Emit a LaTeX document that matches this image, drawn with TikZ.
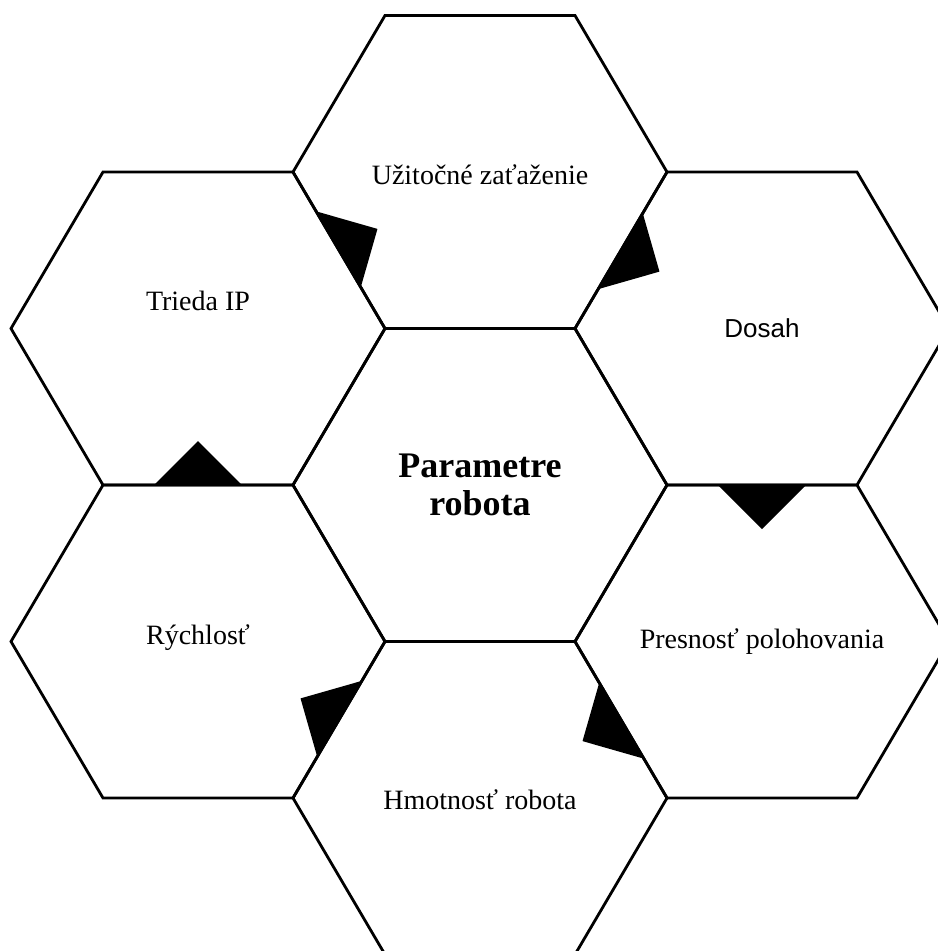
\documentclass[tikz,border=0pt]{standalone}
\usepackage{fontspec}
\setmainfont{Liberation Serif}
\newfontfamily\arialfont{Liberation Sans}
\usetikzlibrary{calc}

\begin{document}
\begin{tikzpicture}[x = .75pt, y = -.75pt,
    every node/.style = {align = center, inner sep = 0pt, font = \fontsize{21}{25}\selectfont},
    hexcell/.style = {draw = black, line width = 2.1pt, line join = miter},
    flowmark/.style = {fill = black}]
    \useasboundingbox (0,0) rectangle (938,951);
    % centres of the cells
    \coordinate (load) at (480,172);
    \coordinate (ip) at (198,328.5);
    \coordinate (reach) at (762,328.5);
    \coordinate (core) at (480,485);
    \coordinate (speed) at (198,641.5);
    \coordinate (accuracy) at (762,641.5);
    \coordinate (mass) at (480,798);
    \foreach \c in {load, ip, reach, core, speed, accuracy, mass}
        \draw[hexcell] ($(\c)+(-187,0)$) -- ++(92,-156.5) -- ++(190,0) -- ++(92,156.5)
            -- ++(-92,156.5) -- ++(-190,0) -- cycle;
    % labels
    \node (load-text) at ($(load)+(0,3)$) {Užitočné zaťaženie};
    \node (ip-text) at ($(ip)+(0,-28)$) {Trieda IP};
    \node (reach-text) at (reach) [font = \arialfont\fontsize{19.5}{23}\selectfont] {Dosah};
    \node (core-text) at (core) [font = \bfseries\fontsize{27}{29}\selectfont] {Parametre\\robota};
    \node (speed-text) at ($(speed)+(0,-4)$) {Rýchlosť};
    \node (accuracy-text) at (accuracy) {Presnosť polohovania};
    \node (mass-text) at ($(mass)+(0,2)$) {Hmotnosť robota};
    % markers on the shared edges
    \foreach \a/\b in {ip/load, load/reach, reach/accuracy, accuracy/mass, mass/speed, speed/ip} {
        \coordinate (m) at ($(\a)!.5!(\b)$);
        \fill[flowmark] ($(m)!33pt!90:(\b)$) -- ($(m)!33pt!(\b)$) -- ($(m)!33pt!-90:(\b)$) -- cycle;
    }
\end{tikzpicture}
\end{document}
